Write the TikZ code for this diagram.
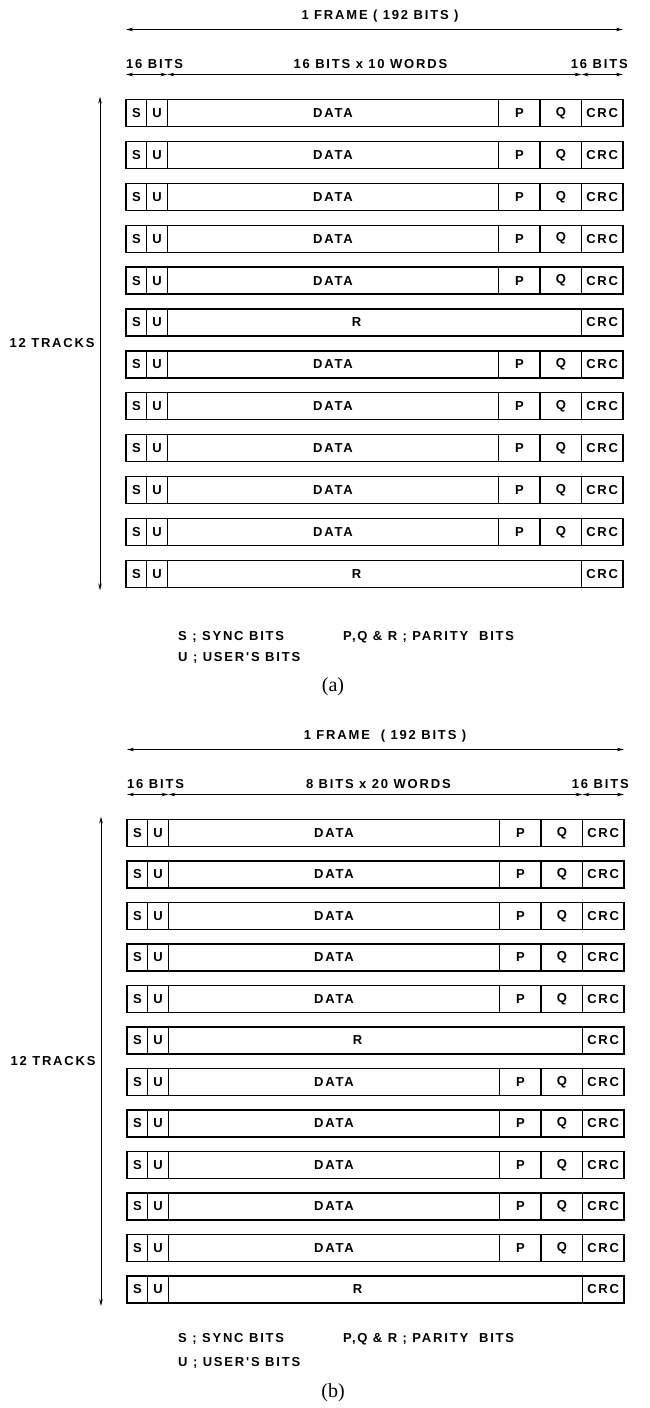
\documentclass[tikz,border=0pt]{standalone}
\usepackage{fontspec}
\setmainfont{Liberation Serif}
\newfontfamily\labelfont[LetterSpace=14]{Liberation Sans}
\usetikzlibrary{positioning,arrows.meta}

\tikzset{
  cell/.style={rectangle, draw, line width=1.3pt, minimum height=27pt, inner sep=0pt, outer sep=0pt, font=\labelfont\bfseries\fontsize{13}{13}\selectfont},
  half/.style={cell, minimum width=20.7pt},
  word/.style={cell, minimum width=41.4pt},
  dim/.style={line width=0.9pt, {Stealth[length=7pt,width=3.5pt]}-{Stealth[length=7pt,width=3.5pt]}},
  lbl/.style={inner sep=0pt, font=\labelfont\bfseries\fontsize{13}{13}\selectfont},
  caption/.style={inner sep=0pt, font=\fontsize{20}{20}\selectfont}
}

\begin{document}
\begin{tikzpicture}[x=1pt, y=-1pt]
\useasboundingbox (0,0) rectangle (649,1408);

% Tracks of both frames
\foreach \fr/\ytop/\pitch/\xl in {a/113/41.9/126, b/833/41.5/127} {
  % S and U for all 12 tracks
  \foreach \i in {1,...,12} {
    \node[half, anchor=west] (\fr-s\i) at ({\xl}, {\ytop+\pitch*(\i-1)}) {S};
    \node[half, right=0pt of \fr-s\i] (\fr-u\i) {U};
  }
  % Data tracks
  \foreach \i in {1,2,3,4,5,7,8,9,10,11} {
    \node[cell, minimum width=331.3pt, right=0pt of \fr-u\i] (\fr-data\i) {DATA};
    \node[word, right=0pt of \fr-data\i] (\fr-p\i) {P};
    \node[word, right=0pt of \fr-p\i] (\fr-q\i) {Q};
    \node[word, right=0pt of \fr-q\i] (\fr-crc\i) {CRC};
  }
  % Parity tracks
  \foreach \i in {6,12} {
    \node[cell, minimum width=414.1pt, right=0pt of \fr-u\i] (\fr-r\i) {\hspace*{-36pt}R};
    \node[word, right=0pt of \fr-r\i] (\fr-crc\i) {CRC};
  }
  % Arrow ends
  \coordinate (\fr-f1) at ([yshift=70pt]\fr-s1.north west);
  \coordinate (\fr-f2) at ([yshift=70pt]\fr-crc1.north east);
  \coordinate (\fr-d1) at ([yshift=25pt]\fr-s1.north west);
  \coordinate (\fr-d2) at ([yshift=25pt]\fr-u1.north east);
  \coordinate (\fr-d3) at ([yshift=25pt]\fr-crc1.north west);
  \coordinate (\fr-d4) at ([yshift=25pt]\fr-crc1.north east);
  \coordinate (\fr-t1) at ([xshift=-26pt, yshift=3pt]\fr-s1.north west);
  \coordinate (\fr-t2) at ([xshift=-26pt, yshift=-3pt]\fr-s12.south west);
  % Frame and track dimensions
  \draw[dim] (\fr-f1) -- (\fr-f2);
  \draw[dim] (\fr-d1) -- (\fr-d2);
  \draw[dim] (\fr-d2) -- (\fr-d3);
  \draw[dim] (\fr-d3) -- (\fr-d4);
  \draw[dim] (\fr-t1) -- (\fr-t2) node[midway, left=5pt, lbl] (\fr-tracks) {12 TRACKS};
  \node[lbl, above=6pt of \fr-d1, anchor=south west] (\fr-sync) {16 BITS};
  \node[lbl, above=6pt of \fr-d4, anchor=south east, xshift=5pt] (\fr-crcbits) {16 BITS};
}

% Labels of frame (a)
\node[lbl, above=7pt of a-f1, anchor=south, xshift=254pt] (a-frame) {1 FRAME ( 192 BITS )};
\node[lbl, above=6pt of a-d2, anchor=south, xshift=203pt] (a-words) {16 BITS x 10 WORDS};
\node[lbl, anchor=west] (a-key1) at (178,637) {S ; SYNC BITS};
\node[lbl, anchor=west] (a-key2) at (343,637) {P,Q \& R ; PARITY\ \ BITS};
\node[lbl, anchor=west] (a-key3) at (178,658) {U ; USER'S BITS};
\node[caption] (a-cap) at (333,687) {(a)};

% Labels of frame (b)
\node[lbl, above=7pt of b-f1, anchor=south, xshift=258pt] (b-frame) {1 FRAME\ \ ( 192 BITS )};
\node[lbl, above=6pt of b-d2, anchor=south, xshift=210pt] (b-words) {8 BITS x 20 WORDS};
\node[lbl, anchor=west] (b-key1) at (178,1339) {S ; SYNC BITS};
\node[lbl, anchor=west] (b-key2) at (343,1339) {P,Q \& R ; PARITY\ \ BITS};
\node[lbl, anchor=west] (b-key3) at (178,1363) {U ; USER'S BITS};
\node[caption] (b-cap) at (333,1393) {(b)};
\end{tikzpicture}
\end{document}
